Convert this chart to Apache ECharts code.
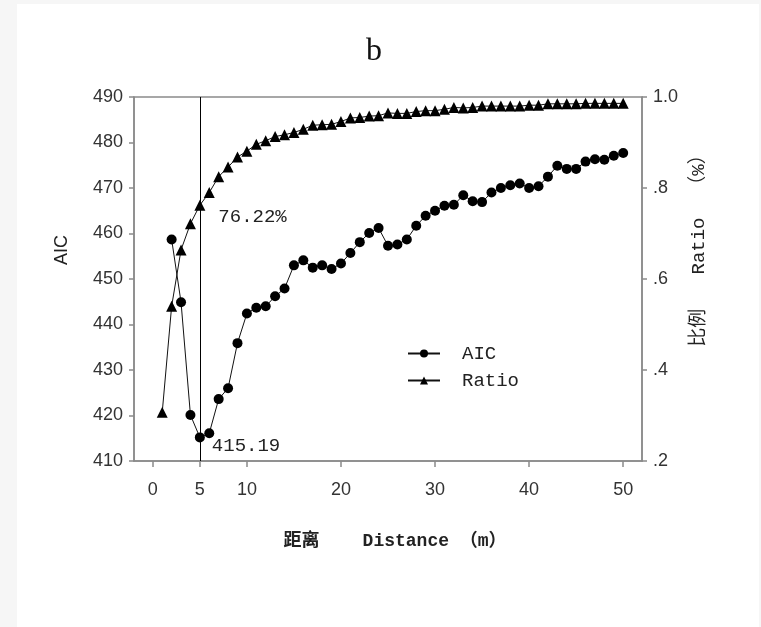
<!DOCTYPE html>
<html>
<head>
<meta charset="utf-8">
<script src="https://cdn.jsdelivr.net/npm/echarts@6/dist/echarts.min.js"></script>
<style>
html,body{margin:0;padding:0;background:#fff;}
#chart{width:761px;height:627px;}
</style>
</head>
<body>
<div id="chart"></div>
<script>
// ---- data ----
var distance = [1,2,3,4,5,6,7,8,9,10,11,12,13,14,15,16,17,18,19,20,21,22,23,24,25,26,27,28,29,30,31,32,33,34,35,36,37,38,39,40,41,42,43,44,45,46,47,48,49,50];
var aicValues = [null,458.7,444.9,420.1,415.19,416.1,423.6,426.0,435.9,442.4,443.7,444.0,446.2,447.9,453.0,454.1,452.5,453.0,452.2,453.4,455.7,458.1,460.1,461.2,457.3,457.6,458.7,461.7,463.9,465.0,466.1,466.3,468.4,467.1,466.9,469.0,470.0,470.6,471.0,470.0,470.4,472.5,474.9,474.2,474.2,475.8,476.3,476.2,477.1,477.7];
var ratioValues = [0.307,0.540,0.664,0.7215,0.7622,0.790,0.825,0.846,0.868,0.881,0.896,0.904,0.913,0.917,0.922,0.929,0.938,0.939,0.940,0.946,0.954,0.955,0.958,0.959,0.965,0.964,0.964,0.968,0.970,0.970,0.973,0.977,0.976,0.977,0.980,0.980,0.980,0.980,0.980,0.982,0.982,0.985,0.985,0.985,0.985,0.986,0.986,0.986,0.986,0.986];
var xTickLabels = [0,5,10,20,30,40,50];
var optimumDistance = 5;
var seriesNames = ['AIC','Ratio'];
var titleText = 'b';
var xAxisTitle = '距离    Distance （m）';
var leftAxisTitle = 'AIC';
var rightAxisTitle = '比例   Ratio  （%）';

var monoFont = "'Liberation Mono','Noto Sans CJK SC',monospace";
var sansFont = "'Liberation Sans',Arial,sans-serif";

function buildData(vals, labelFn) {
  return distance.map(function (d, i) {
    var item = { value: [d, vals[i]] };
    if (d === optimumDistance && labelFn) item.label = labelFn;
    return item;
  });
}

var aicData = buildData(aicValues, {
  show: true, position: 'right', distance: 7, offset: [0, 9],
  formatter: function (p) { return p.value[1].toFixed(2); },
  fontFamily: monoFont, fontSize: 19, color: '#222'
});
var ratioData = buildData(ratioValues, {
  show: true, position: 'right', distance: 13, offset: [0, 12],
  formatter: function (p) { return (p.value[1] * 100).toFixed(2) + '%'; },
  fontFamily: monoFont, fontSize: 19, color: '#222'
});

var axisGray = '#8a8a8a';
var chart = echarts.init(document.getElementById('chart'), null, { renderer: 'canvas' });
chart.setOption({
  backgroundColor: '#f6f6f6',
  animation: false,
  graphic: [
    { type: 'rect', z: -10, shape: { x: 17, y: 4, width: 742, height: 623 }, style: { fill: '#ffffff' } },
    { type: 'text', x: 374, y: 52, style: { text: titleText, font: "32px 'Liberation Serif',serif", fill: '#111', textAlign: 'center', textVerticalAlign: 'middle' } },
    { type: 'text', x: 62, y: 250, rotation: Math.PI / 2, style: { text: leftAxisTitle, font: "18px " + sansFont, fill: '#222', textAlign: 'center', textVerticalAlign: 'middle' } },
    { type: 'text', x: 699, y: 246, rotation: Math.PI / 2, style: { text: rightAxisTitle, font: "19px " + monoFont, fill: '#222', textAlign: 'center', textVerticalAlign: 'middle' } },
    { type: 'text', x: 395, y: 541, style: { text: xAxisTitle, font: "bold 18px " + monoFont, fill: '#222', textAlign: 'center', textVerticalAlign: 'middle' } }
  ],
  grid: { left: 134, top: 97, width: 508, height: 364, show: true, borderColor: axisGray, borderWidth: 1.5, backgroundColor: 'transparent' },
  legend: {
    orient: 'vertical', left: 402, top: 339,
    itemWidth: 32, itemHeight: 10, itemGap: 8,
    data: seriesNames,
    textStyle: { fontFamily: monoFont, fontSize: 19, color: '#222', padding: [0, 0, 0, 17] }
  },
  xAxis: {
    type: 'value', min: -2, max: 52,
    axisLine: { show: true, onZero: false, lineStyle: { color: axisGray, width: 1.5 } },
    axisTick: { show: true, inside: false, length: 6, customValues: xTickLabels, lineStyle: { color: axisGray, width: 1.5 } },
    axisLabel: { customValues: xTickLabels, margin: 20, fontFamily: sansFont, fontSize: 18, color: '#333' },
    splitLine: { show: false }
  },
  yAxis: [
    {
      type: 'value', min: 410, max: 490, interval: 10, position: 'left',
      axisLine: { show: true, onZero: false, lineStyle: { color: axisGray, width: 1.5 } },
      axisTick: { show: true, length: 5, lineStyle: { color: axisGray, width: 1.5 } },
      axisLabel: { margin: 11, fontFamily: sansFont, fontSize: 18, color: '#333' },
      splitLine: { show: false }
    },
    {
      type: 'value', min: 0.2, max: 1.0, interval: 0.2, position: 'right',
      axisLine: { show: true, onZero: false, lineStyle: { color: axisGray, width: 1.5 } },
      axisTick: { show: true, length: 5, lineStyle: { color: axisGray, width: 1.5 } },
      axisLabel: {
        margin: 11, fontFamily: sansFont, fontSize: 18, color: '#333',
        formatter: function (v) { return v >= 0.999 ? '1.0' : '.' + Math.round(v * 10); }
      },
      splitLine: { show: false }
    }
  ],
  series: [
    {
      name: seriesNames[0], type: 'line', yAxisIndex: 0, data: aicData,
      symbol: 'circle', symbolSize: 10, connectNulls: false,
      itemStyle: { color: '#000' }, lineStyle: { color: '#111', width: 1 },
      markLine: {
        silent: true, symbol: ['none', 'none'], label: { show: false },
        lineStyle: { color: '#000', width: 1, type: 'solid' },
        data: [{ xAxis: optimumDistance }]
      }
    },
    {
      name: seriesNames[1], type: 'line', yAxisIndex: 1, data: ratioData,
      symbol: 'triangle', symbolSize: 11,
      itemStyle: { color: '#000' }, lineStyle: { color: '#111', width: 1 }
    }
  ]
});
</script>
</body>
</html>
